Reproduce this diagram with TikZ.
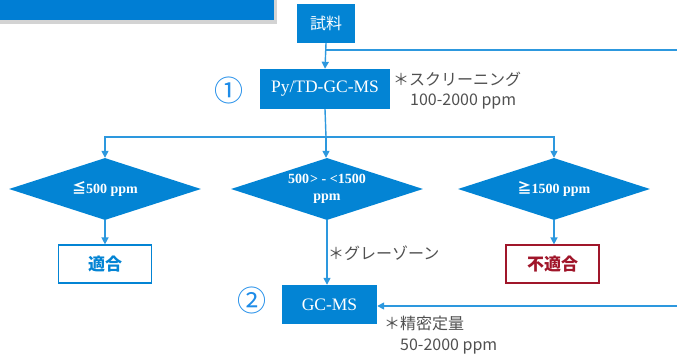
\documentclass[tikz,border=0pt]{standalone}
\usepackage{fontspec}
\setmainfont{Liberation Serif}
\newfontfamily\cjk{Noto Sans CJK JP}
\usetikzlibrary{shapes.geometric,arrows.meta,shadows}
\definecolor{boxblue}{RGB}{3,132,212}
\definecolor{lineblue}{RGB}{45,152,222}
\definecolor{numblue}{RGB}{30,140,232}
\definecolor{ngred}{RGB}{160,22,42}
\definecolor{notegray}{RGB}{80,80,80}
\definecolor{bannerblue}{RGB}{0,126,212}
\tikzset{
  filledbox/.style={draw=none,fill=boxblue,text=white,inner sep=0pt,font=\fontsize{17.5}{19}\selectfont},
  decision/.style={shape=diamond,fill=boxblue,text=white,inner sep=0pt,aspect=3.1,
     minimum width=192pt,minimum height=62pt,align=center,font=\bfseries\fontsize{14}{17}\selectfont},
  okbox/.style={draw=boxblue,line width=1.2pt,fill=white,text=boxblue,minimum width=93pt,minimum height=38pt,
     font=\cjk\bfseries\fontsize{17}{19}\selectfont},
  ngbox/.style={draw=ngred,line width=1.2pt,fill=white,text=ngred,minimum width=93pt,minimum height=38pt,
     font=\cjk\bfseries\fontsize{17}{19}\selectfont},
  note/.style={text=notegray,anchor=west,inner sep=0pt,font=\cjk\fontsize{16}{18}\selectfont},
  circnum/.style={text=numblue,inner sep=0pt,font=\cjk\fontsize{29}{31}\selectfont},
  conn/.style={draw=lineblue,line width=1.4pt},
  arr/.style={conn,-{Triangle[length=7pt,width=7pt]}},
}
\begin{document}
\begin{tikzpicture}[x=1pt,y=-1pt]
\useasboundingbox (0,0) rectangle (677,355);
% banner
\fill[bannerblue,drop shadow={shadow xshift=3pt,shadow yshift=-4pt,opacity=0.35}] (-10,-20) rectangle (274,20);
% nodes
\node[filledbox,minimum width=58pt,minimum height=39pt,font=\cjk\fontsize{16}{18}\selectfont] (shiryo) at (326,23.5) {試料};
\node[filledbox,minimum width=130pt,minimum height=40pt] (py) at (325,89) {Py/TD-GC-MS};
\node[circnum] (n1) at (229,90) {①};
\node[note] (s1) at (393,79) {＊スクリーニング};
\node[note] (s2) at (410,102) {100-2000 ppm};
\node[decision] (d1) at (105,189) {{\cjk ≦}500 ppm};
\node[decision] (d2) at (327,189) {500\kern1pt> - <1500\\ppm};
\node[decision] (d3) at (554,189) {{\cjk ≧}1500 ppm};
\node[okbox] (ok) at (105,264) {適合};
\node[ngbox] (ng) at (552.5,264) {不適合};
\node[filledbox,minimum width=95pt,minimum height=39pt] (gc) at (329.5,304.5) {GC-MS};
\node[circnum] (n2) at (252,300) {②};
\node[note] (g1) at (328,253) {＊グレーゾーン};
\node[note] (p1) at (384,323) {＊精密定量};
\node[note] (p2) at (400,347) {50-2000 ppm};
% connectors
\coordinate (r1) at (677,50);
\coordinate (r2) at (677,306);
\coordinate (bj) at (326,137);
\draw[arr] (shiryo.south) -- (py.north);
\draw[conn] (shiryo.south |- r1) -- (r1);
\draw[conn] (py.south) -- (bj);
\draw[arr] (bj) -| (d1.north);
\draw[arr] (bj) -- (bj |- d2.north);
\draw[arr] (bj) -| (d3.north);
\draw[arr] (d1.south) -- (d1.south |- ok.north);
\draw[arr] (d2.south) -- (d2.south |- gc.north);
\draw[arr] (d3.south) -- (d3.south |- ng.north);
\draw[arr] (r2) -- (gc.east |- r2);
\end{tikzpicture}
\end{document}
